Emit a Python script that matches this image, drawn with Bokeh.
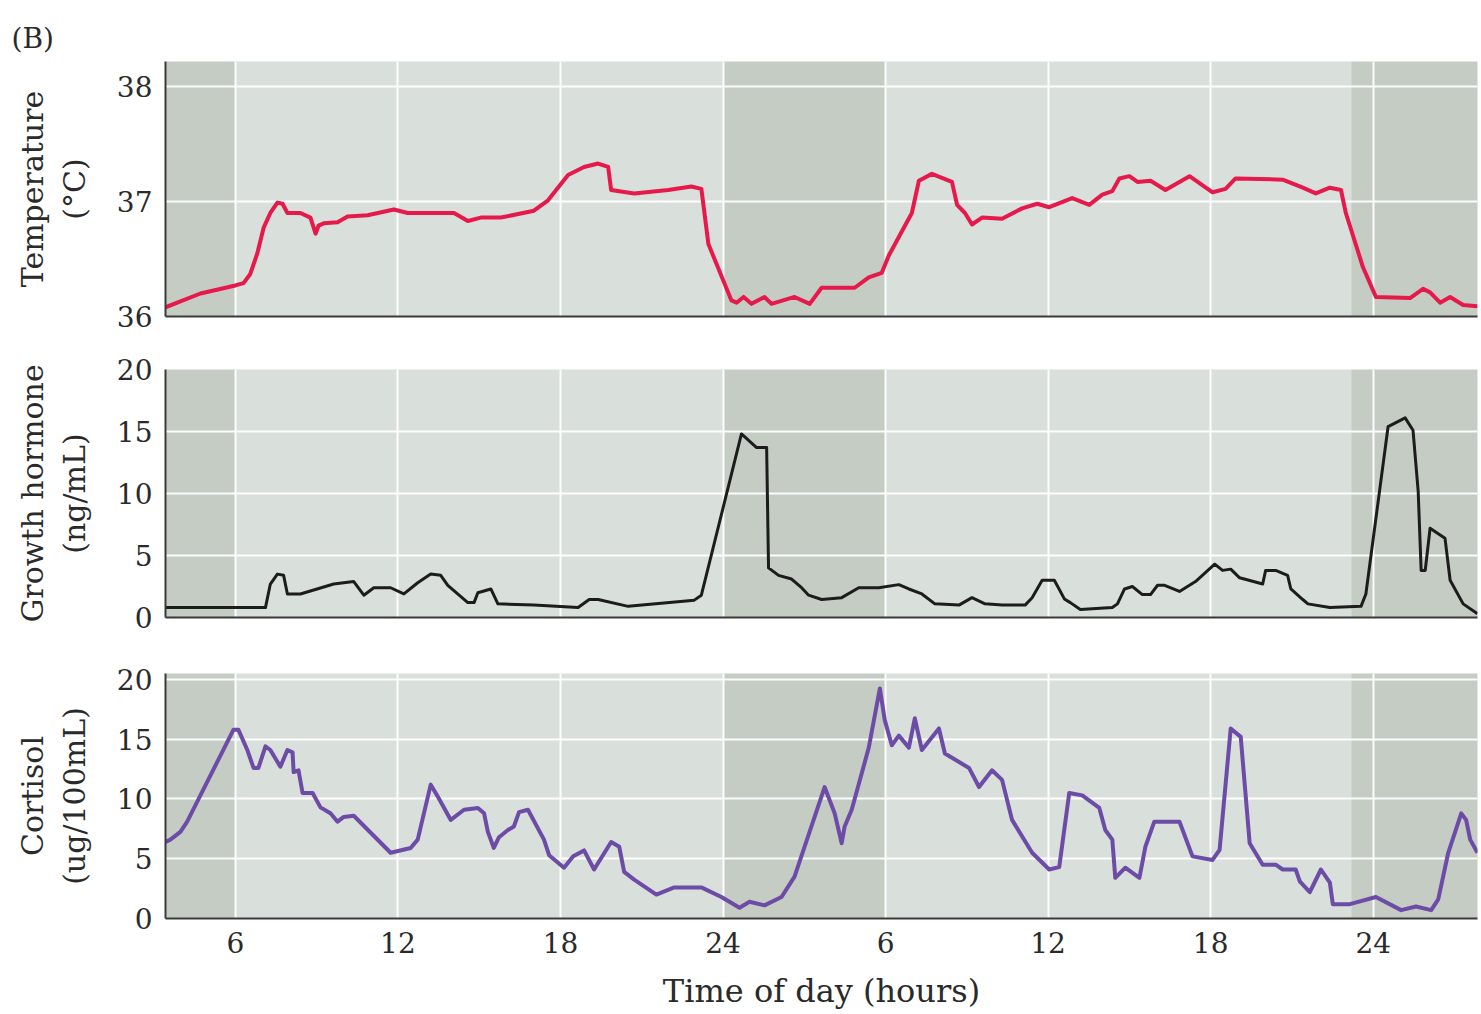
from bokeh.plotting import figure
from bokeh.layouts import column
from bokeh.models import FixedTicker, BoxAnnotation, Title, Range1d
from bokeh.embed import file_html
from bokeh.resources import INLINE

FONT = "DejaVu Serif"

# ---------------- data ----------------
temp_hours = [3.42, 4.71, 6.0, 6.30, 6.55, 6.81, 7.04, 7.29, 7.55, 7.74, 7.92, 8.40, 8.77, 8.96, 9.07,
              9.26, 9.77, 10.14, 10.88, 11.85, 12.36, 14.07, 14.58, 15.06, 15.80, 17.02, 17.54, 18.28,
              18.87, 19.39, 19.76, 19.87, 20.72, 21.98, 22.83, 23.20, 23.46, 24.31, 24.50, 24.76, 25.05,
              25.53, 25.79, 26.64, 27.20, 27.64, 28.86, 29.38, 29.86, 30.12, 30.97, 31.23, 31.71, 32.45,
              32.64, 32.93, 33.19, 33.56, 34.30, 35.04, 35.60, 36.04, 36.89, 37.52, 38.00, 38.37, 38.63,
              39.00, 39.30, 39.78, 40.33, 41.22, 42.07, 42.55, 42.92, 44.66, 45.40, 45.88, 46.40, 46.81,
              46.99, 47.62, 48.10, 49.36, 49.84, 50.10, 50.47, 50.84, 51.32, 51.85]
temp_values = [36.08, 36.2, 36.27, 36.29, 36.37, 36.55, 36.77, 36.9, 36.99, 36.98, 36.9, 36.9, 36.86, 36.72,
               36.79, 36.81, 36.82, 36.87, 36.88, 36.93, 36.9, 36.9, 36.83, 36.86, 36.86, 36.92, 37.01,
               37.23, 37.3, 37.33, 37.3, 37.1, 37.07, 37.1, 37.13, 37.11, 36.63, 36.14, 36.12, 36.17,
               36.11, 36.17, 36.11, 36.17, 36.11, 36.25, 36.25, 36.34, 36.38, 36.53, 36.9, 37.18, 37.24,
               37.17, 36.97, 36.9, 36.8, 36.86, 36.85, 36.94, 36.98, 36.95, 37.03, 36.97, 37.06, 37.09,
               37.2, 37.22, 37.17, 37.18, 37.1, 37.22, 37.08, 37.11, 37.2, 37.19, 37.12, 37.07, 37.12,
               37.1, 36.9, 36.43, 36.17, 36.16, 36.24, 36.21, 36.12, 36.17, 36.1, 36.09]

gh_hours = [3.42, 7.11, 7.29, 7.55, 7.78, 7.92, 8.40, 9.63, 10.37, 10.74, 11.11, 11.73, 12.22, 12.73,
            13.21, 13.58, 13.84, 14.58, 14.81, 14.95, 15.43, 15.69, 17.02, 18.65, 19.06, 19.39, 20.50,
            22.94, 23.20, 24.68, 25.24, 25.61, 25.68, 26.05, 26.53, 26.90, 27.16, 27.64, 28.38, 29.01,
            29.75, 30.49, 30.86, 31.34, 31.82, 32.71, 33.19, 33.67, 34.30, 35.15, 35.41, 35.78, 36.23,
            36.60, 36.82, 37.19, 38.37, 38.56, 38.82, 39.11, 39.48, 39.78, 40.04, 40.30, 40.85, 41.44,
            42.15, 42.44, 42.74, 43.07, 43.92, 44.03, 44.40, 44.84, 44.96, 45.40, 45.59, 46.40, 47.55,
            47.73, 48.55, 49.18, 49.47, 49.66, 49.77, 49.92, 50.10, 50.65, 50.84, 51.32, 51.85]
gh_values = [0.8, 0.8, 2.7, 3.5, 3.4, 1.9, 1.9, 2.7, 2.9, 1.8, 2.4, 2.4, 1.9, 2.8,
             3.5, 3.4, 2.6, 1.2, 1.2, 2.0, 2.3, 1.1, 1.0, 0.8, 1.45, 1.45, 0.9,
             1.4, 1.8, 14.8, 13.7, 13.7, 4.0, 3.4, 3.1, 2.4, 1.8, 1.45, 1.6, 2.4,
             2.4, 2.65, 2.3, 1.9, 1.1, 1.0, 1.6, 1.1, 1.0, 1.0, 1.6, 3.0, 3.0,
             1.5, 1.2, 0.65, 0.8, 1.1, 2.3, 2.5, 1.85, 1.85, 2.6, 2.6, 2.1, 2.9,
             4.3, 3.8, 3.9, 3.2, 2.7, 3.8, 3.8, 3.4, 2.3, 1.45, 1.1, 0.8, 0.9,
             1.9, 15.4, 16.1, 15.1, 10.2, 3.8, 3.8, 7.2, 6.4, 3.0, 1.1, 0.3]

cort_hours = [3.42, 3.60, 3.97, 4.22, 5.93, 6.11, 6.44, 6.67, 6.85, 7.11, 7.29, 7.66, 7.92, 8.11, 8.15,
              8.33, 8.48, 8.85, 9.14, 9.51, 9.77, 10.00, 10.37, 11.73, 12.47, 12.73, 13.21, 13.47, 13.95,
              14.44, 14.95, 15.18, 15.32, 15.54, 15.73, 16.06, 16.28, 16.47, 16.80, 17.39, 17.58, 18.13,
              18.47, 18.87, 19.24, 19.87, 20.17, 20.35, 20.72, 21.54, 22.20, 23.20, 23.94, 24.61, 24.98,
              25.53, 26.16, 26.64, 27.75, 28.12, 28.38, 28.49, 28.75, 29.38, 29.79, 29.97, 30.23, 30.49,
              30.86, 31.08, 31.34, 31.97, 32.19, 33.08, 33.45, 33.93, 34.30, 34.67, 35.41, 36.04, 36.41,
              36.78, 37.26, 37.89, 38.11, 38.37, 38.48, 38.85, 39.37, 39.59, 39.92, 40.85, 41.33, 42.07,
              42.33, 42.74, 43.11, 43.44, 43.92, 44.40, 44.66, 45.14, 45.29, 45.66, 46.07, 46.40, 46.51,
              47.14, 48.10, 49.03, 49.58, 50.14, 50.40, 50.77, 51.25, 51.43, 51.58, 51.85]
cort_values = [6.4, 6.6, 7.25, 8.1, 15.8, 15.8, 14.1, 12.6, 12.6, 14.4, 14.1, 12.7, 14.1, 13.9, 12.25,
               12.4, 10.5, 10.5, 9.3, 8.8, 8.1, 8.5, 8.6, 5.5, 5.9, 6.6, 11.2, 10.2, 8.25,
               9.1, 9.25, 8.8, 7.25, 5.9, 6.8, 7.4, 7.7, 8.9, 9.1, 6.6, 5.3, 4.25,
               5.2, 5.7, 4.1, 6.4, 6.0, 3.9, 3.25, 2.0, 2.6, 2.6, 1.8, 0.9, 1.4,
               1.1, 1.8, 3.5, 11.0, 8.8, 6.3, 7.7, 9.1, 14.3, 19.25, 16.6, 14.5, 15.3,
               14.3, 16.75, 14.1, 15.9, 13.8, 12.6, 11.0, 12.4, 11.6, 8.25, 5.5, 4.1, 4.3,
               10.5, 10.3, 9.25, 7.4, 6.6, 3.4, 4.25, 3.4, 6.0, 8.1, 8.1, 5.2, 4.9,
               5.75, 15.9, 15.2, 6.3, 4.5, 4.5, 4.1, 4.1, 3.1, 2.2, 4.1, 3.0, 1.2,
               1.2, 1.8, 0.7, 1.0, 0.7, 1.6, 5.5, 8.8, 8.25, 6.6, 5.5]

x_ticks = [6, 12, 18, 24, 30, 36, 42, 48]
x_tick_labels = ["6", "12", "18", "24", "6", "12", "18", "24"]
night_start = [3.42, 24.0, 47.2]
night_end = [6.0, 30.0, 51.85]
temp_ticks = [36, 37, 38]
hormone_ticks = [0, 5, 10, 15, 20]
x_limits = (3.42, 51.85)
temp_limits = (36.0, 38.217)
gh_limits = (0.0, 20.0)
cort_limits = (0.0, 20.5)

LIGHT = "#d9dfdb"
DARK = "#c5ccc4"
AXIS = "#3a3a3a"
TEXT = "#2a2a2a"

x_range = Range1d(*x_limits)


def panel(height, top, bottom, y_limits, yticks, ylabel, show_x):
    p = figure(width=1479, height=height, x_range=x_range, y_range=Range1d(*y_limits),
               output_backend="svg", toolbar_location=None,
               min_border_left=165, min_border_right=2,
               min_border_top=top, min_border_bottom=bottom)
    p.background_fill_color = LIGHT
    p.border_fill_color = "white"
    p.outline_line_color = None
    for s, e in zip(night_start, night_end):
        p.add_layout(BoxAnnotation(left=s, right=e, fill_color=DARK, fill_alpha=1.0,
                                   line_color=None, level="image"))
    p.xaxis.ticker = FixedTicker(ticks=x_ticks)
    p.yaxis.ticker = FixedTicker(ticks=yticks)
    for g in (p.xgrid, p.ygrid):
        g.grid_line_color = "white"
        g.grid_line_width = 2
        g.grid_line_alpha = 0.95
    for ax in (p.xaxis, p.yaxis):
        ax.axis_line_color = AXIS
        ax.axis_line_width = 2
        ax.major_tick_line_color = None
        ax.minor_tick_line_color = None
        ax.major_tick_out = 0
        ax.major_tick_in = 0
        ax.minor_tick_out = 0
        ax.major_label_text_font = FONT
        ax.major_label_text_color = TEXT
        ax.axis_label_text_font = FONT
        ax.axis_label_text_color = TEXT
        ax.axis_label_text_font_style = "normal"
    p.yaxis.major_label_text_font_size = "28px"
    p.yaxis.major_label_standoff = 13
    p.yaxis.axis_label = ylabel
    p.yaxis.axis_label_text_font_size = "30px"
    p.yaxis.axis_label_text_line_height = 1.2
    p.yaxis.axis_label_standoff = 22
    if show_x:
        p.xaxis.major_label_overrides = {t: l for t, l in zip(x_ticks, x_tick_labels)}
        p.xaxis.major_label_text_font_size = "28px"
        p.xaxis.major_label_standoff = 13
        p.xaxis.axis_label = "Time of day (hours)"
        p.xaxis.axis_label_text_font_size = "32px"
        p.xaxis.axis_label_standoff = 16
    else:
        p.xaxis.major_label_text_font_size = "1px"
        p.xaxis.major_label_text_color = None
        p.xaxis.major_label_standoff = 0
    return p


p1 = panel(340, 61, 24, temp_limits, temp_ticks, "Temperature\n(°C)", False)
p1.add_layout(Title(text="(B)", align="left", offset=-154, standoff=10, vertical_align="top",
                    text_font=FONT, text_font_size="28px", text_font_style="normal",
                    text_color=TEXT), "above")
p1.line(temp_hours, temp_values, line_color="#e6194b", line_width=4, line_join="round")

p2 = panel(303, 29, 26, gh_limits, hormone_ticks, "Growth hormone\n(ng/mL)", False)
p2.line(gh_hours, gh_values, line_color="#1c1c1c", line_width=3, line_join="round")

p3 = panel(369, 30, 93, cort_limits, hormone_ticks, "Cortisol\n(ug/100mL)", True)
p3.line(cort_hours, cort_values, line_color="#6c4ca6", line_width=4, line_join="round")

layout = column(p1, p2, p3, spacing=0)
open("out.html", "w").write(file_html(layout, INLINE))
